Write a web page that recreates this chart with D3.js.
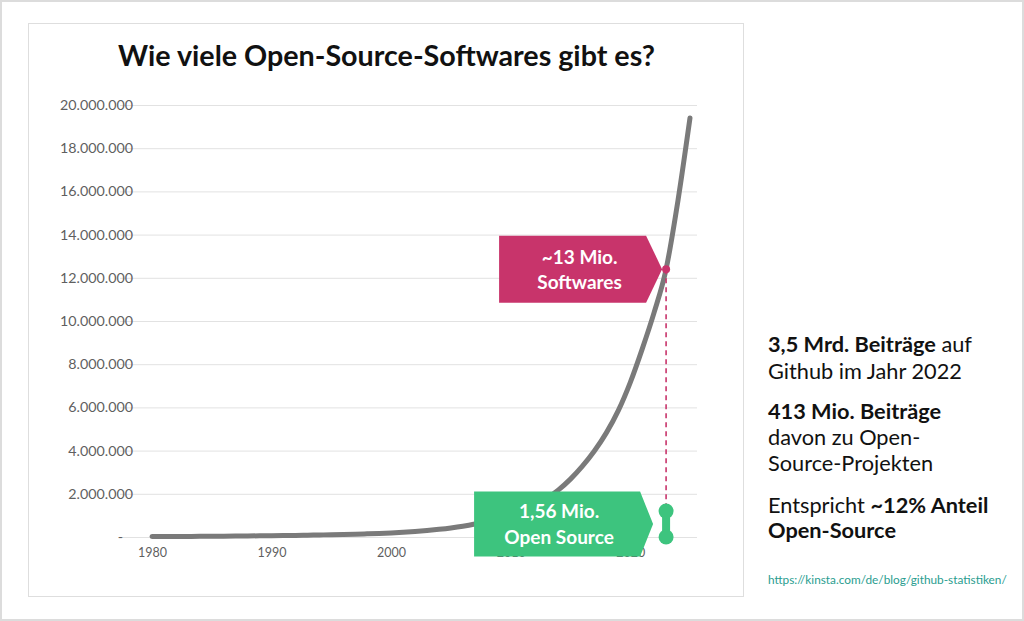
<!DOCTYPE html>
<html>
<head>
<meta charset="utf-8">
<script src="https://cdn.jsdelivr.net/npm/d3@7"></script>
<style>
  html, body { margin: 0; padding: 0; background: #fff; }
  svg { display: block; font-family: Lato, "Open Sans", sans-serif; }
</style>
</head>
<body>
<svg id="chart" width="1024" height="621"></svg>
<script>
// ---- Data ----
const years = [1980,1981,1982,1983,1984,1985,1986,1987,1988,1989,
               1990,1991,1992,1993,1994,1995,1996,1997,1998,1999,
               2000,2001,2002,2003,2004,2005,2006,2007,2008,2009,
               2010,2011,2012,2013,2014,2015,2016,2017,2018,2019,
               2020,2021,2022,2023,2024,2025];
const softwareCount = [20000,22000,25000,28000,31000,35000,39000,43000,48000,54000,
                       60000,67000,75000,85000,95000,105000,118000,132000,148000,166000,
                       190000,220000,255000,300000,355000,420000,500000,600000,720000,860000,
                       1000000,1200000,1450000,1780000,2180000,2680000,3280000,3980000,4820000,5850000,
                       7150000,8700000,10400000,12400000,15600000,19400000];
const yTicks = [0,2000000,4000000,6000000,8000000,10000000,12000000,14000000,16000000,18000000,20000000];
const xTicks = [1980,1990,2000,2010,2020];
const markYear = 2023;
const markSoftware = 12400000;       // pink point on the curve
const markOpenSource = [0, 1200000];  // green dumbbell (drawn height)
const titleText = "Wie viele Open-Source-Softwares gibt es?";
const pinkLabel = ["~13 Mio.", "Softwares"];
const greenLabel = ["1,56 Mio.", "Open Source"];
const sideNotes = [
  [{t:"3,5 Mrd. Beiträge", b:true},{t:" auf", b:false}],
  [{t:"Github im Jahr 2022", b:false}],
  null,
  [{t:"413 Mio. Beiträge", b:true}],
  [{t:"davon zu Open-", b:false}],
  [{t:"Source-Projekten", b:false}],
  null,
  [{t:"Entspricht ", b:false},{t:"~12% Anteil", b:true}],
  [{t:"Open-Source", b:true}]
];
const sourceText = "https://kinsta.com/de/blog/github-statistiken/";

// ---- Setup ----
const svg = d3.select("#chart");
const PINK = "#c8346b", GREEN = "#3dc47e", LINE = "#7a7a7a";

const de = d3.formatLocale({decimal: ",", thousands: ".", grouping: [3], currency: ["", "€"]});
const fmt = de.format(",");

const x = d3.scaleLinear().domain([1980, 2025]).range([152, 690]);
const y = d3.scaleLinear().domain([0, 20000000]).range([537, 105]);

function fitWidth(sel, w) {
  const fs = parseFloat(sel.attr("font-size"));
  const len = sel.node().getComputedTextLength();
  sel.attr("font-size", (fs * w / len).toFixed(2));
}

// Frames
svg.append("rect").attr("x", 1).attr("y", 1).attr("width", 1022).attr("height", 619)
  .attr("fill", "none").attr("stroke", "#dcdcdc").attr("stroke-width", 2);
svg.append("rect").attr("x", 28.5).attr("y", 23.5).attr("width", 715).attr("height", 573)
  .attr("fill", "#fff").attr("stroke", "#dedede").attr("stroke-width", 1);

// Title
const title = svg.append("text").attr("x", 386.5).attr("y", 66).attr("text-anchor", "middle")
  .attr("font-size", 25).attr("font-weight", 700).attr("fill", "#111").text(titleText);
fitWidth(title, 537);

// Gridlines
svg.append("g").selectAll("line").data(yTicks).join("line")
  .attr("x1", 120).attr("x2", 697)
  .attr("y1", d => y(d) + 0.5).attr("y2", d => y(d) + 0.5)
  .attr("stroke", "#e2e2e2").attr("stroke-width", 1);

// Y axis labels
const yAxis = svg.append("g").attr("transform", "translate(133,0)")
  .call(d3.axisLeft(y).tickValues(yTicks).tickSize(0).tickPadding(0)
    .tickFormat(d => d === 0 ? "-" : fmt(d)));
yAxis.select(".domain").remove();
yAxis.selectAll("text").attr("font-size", 12).attr("fill", "#5f5f5f")
  .attr("font-family", "Lato, sans-serif");
{
  const top = yAxis.selectAll("text").filter(d => d === 20000000);
  const len = top.node().getComputedTextLength();
  yAxis.selectAll("text").attr("font-size", (12 * 73 / len).toFixed(2));
  yAxis.selectAll("text").filter(d => d === 0).attr("dx", -10);
}

// X axis labels
const xAxis = svg.append("g").attr("transform", "translate(0,548)")
  .call(d3.axisBottom(x).tickValues(xTicks).tickSize(0).tickPadding(0).tickFormat(d3.format("d")));
xAxis.select(".domain").remove();
xAxis.selectAll("text").attr("font-size", 12.5).attr("fill", "#5f5f5f")
  .attr("font-family", "Lato, sans-serif");

// Curve
const line = d3.line().x((d, i) => x(years[i])).y(d => y(d)).curve(d3.curveMonotoneX);
svg.append("path").datum(softwareCount).attr("d", line)
  .attr("fill", "none").attr("stroke", LINE).attr("stroke-width", 5)
  .attr("stroke-linecap", "round").attr("stroke-linejoin", "round");

// Dashed connector
const mx = x(markYear), my = y(markSoftware);
svg.append("line").attr("x1", mx).attr("x2", mx)
  .attr("y1", my).attr("y2", y(markOpenSource[1]))
  .attr("stroke", PINK).attr("stroke-width", 1.6).attr("stroke-dasharray", "5,4");

// Pink label box
{
  const tipX = mx - 4, cy = my, h = 67, bodyR = tipX - 16, left = bodyR - 147;
  const pts = [[left, cy - h/2], [bodyR, cy - h/2], [tipX, cy], [bodyR, cy + h/2], [left, cy + h/2]];
  svg.append("path").attr("d", d3.line()(pts) + "Z").attr("fill", PINK);
  const cxl = (left + bodyR) / 2 + 7;
  pinkLabel.forEach((t, i) => {
    svg.append("text").attr("x", cxl).attr("y", cy - 5 + i * 24.5).attr("text-anchor", "middle")
      .attr("font-size", 19).attr("font-weight", 700).attr("fill", "#fff").text(t);
  });
}
svg.append("circle").attr("cx", mx).attr("cy", my).attr("r", 4).attr("fill", PINK);

// Green label box
{
  const cy = (y(markOpenSource[0]) + y(markOpenSource[1])) / 2;
  const tipX = mx - 13, h = 65, bodyR = tipX - 13, left = bodyR - 166;
  const pts = [[left, cy - h/2], [bodyR, cy - h/2], [tipX, cy], [bodyR, cy + h/2], [left, cy + h/2]];
  svg.append("path").attr("d", d3.line()(pts) + "Z").attr("fill", GREEN);
  const cxl = (left + bodyR) / 2 + 2;
  greenLabel.forEach((t, i) => {
    svg.append("text").attr("x", cxl).attr("y", cy - 6 + i * 26).attr("text-anchor", "middle")
      .attr("font-size", 19).attr("font-weight", 700).attr("fill", "#fff").text(t);
  });
}
// Dumbbell
svg.append("line").attr("x1", mx).attr("x2", mx)
  .attr("y1", y(markOpenSource[0])).attr("y2", y(markOpenSource[1]))
  .attr("stroke", GREEN).attr("stroke-width", 8);
svg.append("g").selectAll("circle").data(markOpenSource).join("circle")
  .attr("cx", mx).attr("cy", d => y(d)).attr("r", 7.5).attr("fill", GREEN);

// Side notes
{
  const baselines = [352, 379, 0, 419, 445, 471, 0, 513, 538];
  const g = svg.append("g");
  sideNotes.forEach((ln, i) => {
    if (!ln) return;
    const t = g.append("text").attr("x", 768).attr("y", baselines[i])
      .attr("font-size", 18).attr("fill", "#111");
    ln.forEach(s => t.append("tspan").attr("font-weight", s.b ? 700 : 400).text(s.t));
  });
  const first = g.select("text");
  const len = first.node().getComputedTextLength();
  g.selectAll("text").attr("font-size", (18 * 204 / len).toFixed(2));
}
const src = svg.append("text").attr("x", 768).attr("y", 584).attr("font-size", 10.5)
  .attr("fill", "#2a9d8f").text(sourceText);
fitWidth(src, 239);
</script>
</body>
</html>
